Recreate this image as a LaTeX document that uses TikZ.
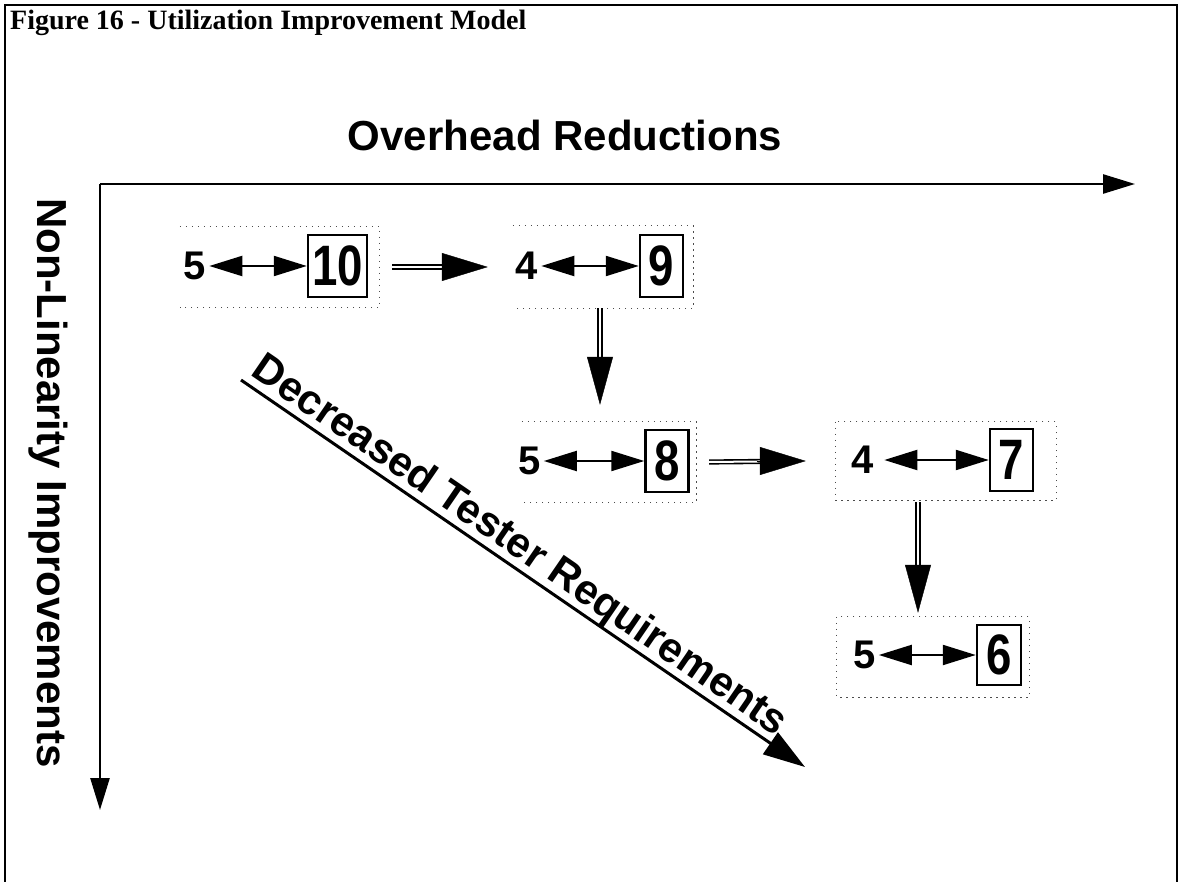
\documentclass[tikz,border=0pt]{standalone}
\usepackage{fontspec}
\usepackage{graphicx}
\setmainfont{Liberation Serif}
\newfontfamily\arialfont{Liberation Sans}
\usetikzlibrary{arrows.meta,calc}
\newcommand\bignum[1]{\scalebox{0.8}[1]{\arialfont\bfseries\fontsize{57}{57}\selectfont #1}}
\begin{document}
\begin{tikzpicture}[x=1pt,y=-1pt,
  lbl/.style={font=\arialfont\bfseries\fontsize{42}{42}\selectfont, inner sep=0pt},
  dig/.style={font=\arialfont\bfseries\fontsize{40}{40}\selectfont, inner sep=0pt},
  numbox/.style={draw, line width=2.5pt, minimum height=62pt, minimum width=43pt, inner sep=0pt},
  grp/.style={inner sep=0pt},
  dots/.style={draw=black!70, line width=1.1pt, dash pattern=on 1.4pt off 4.6pt},
  twoway/.style={line width=2.2pt, {Triangle[length=33pt,width=20pt]}-{Triangle[length=33pt,width=20pt]}},
  axistip/.style={line width=2.6pt, -{Triangle[length=32pt,width=19pt]}},
  shaft/.style={draw, line width=1.6pt, double=white, double distance=2pt},
  fwdhead/.style={line width=0.4pt, -{Triangle[length=46pt,width=28pt]}},
  downhead/.style={line width=0.4pt, -{Triangle[length=48pt,width=26pt]}}
]
\useasboundingbox (0,0) rectangle (1180,882);
% frame
\draw[line width=1.8pt] (5,890) -- (5,5) -- (1177,5) -- (1177,890);
\node[anchor=base west, inner sep=0pt, font=\bfseries\fontsize{28}{28}\selectfont] (title) at (10,30) {Figure 16 - Utilization Improvement Model};

% axes
\coordinate (org) at (100,184);
\coordinate (xend) at (1135,184);
\coordinate (yend) at (100,810);
\draw[axistip] (org) -- (xend);
\draw[axistip] (org) -- (yend);
\node[lbl, anchor=base] (xlab) at (565,151) {Overhead Reductions};
\node[lbl, rotate=-90, anchor=base west] (ylab) at (37,198) {Non-Linearity Improvements};

% diagonal
\coordinate (dA) at (241,380);
\coordinate (dB) at (805,767);
\draw[line width=3pt, -{Triangle[length=42pt,width=26pt]}] (dA) -- (dB);
\path let \p1=($(dB)-(dA)$), \n1={atan2(\y1,\x1)} in
  node[lbl, rotate=\n1, anchor=base west] (dlab) at ($(dA)!4pt!(dB)+(0.5658*9,-0.8246*9)$) {Decreased Tester Requirements};

% groups
\node[grp, minimum width=199pt, minimum height=81pt] (g1) at (279.5,267) {};
\node[grp, minimum width=180pt, minimum height=82pt] (g2) at (603,267) {};
\node[grp, minimum width=174pt, minimum height=80pt] (g3) at (609,462) {};
\node[grp, minimum width=220pt, minimum height=78pt] (g4) at (946,461) {};
\node[grp, minimum width=192pt, minimum height=80pt] (g5) at (933,657) {};
\draw[dots] (g1.north west) -- (g1.north east) -- (g1.south east) -- (g1.south west);
\draw[dots] (g2.north west) -- (g2.north east) -- (g2.south east) -- (g2.south west);
\draw[dots] (g3.north west) -- (g3.north east) -- (g3.south east) -- (g3.south west);
\draw[dots] (g4.north west) rectangle (g4.south east);
\draw[dots] (g5.north west) rectangle (g5.south east);

% group contents
\node[dig] (a1) at (195,266) {5};
\node[numbox, minimum width=59pt] (b1) at (337.5,266) {\bignum{10}};
\node[dig] (a2) at (527,266) {4};
\node[numbox] (b2) at (661.5,266) {\bignum{9}};
\node[dig] (a3) at (529.5,461) {5};
\node[numbox] (b3) at (667,461) {\bignum{8}};
\node[dig] (a4) at (863,460) {4};
\node[numbox] (b4) at (1011.5,460) {\bignum{7}};
\node[dig] (a5) at (864.5,655) {5};
\node[numbox, minimum width=44pt, minimum height=60pt] (b5) at (999,655) {\bignum{6}};

\draw[twoway, shorten <=3pt] (a1.east) -- (b1.west);
\draw[twoway, shorten <=3pt] (a2.east) -- (b2.west);
\draw[twoway, shorten <=3pt] (a3.east) -- (b3.west);
\draw[twoway, shorten <=10pt] (a4.east) -- (b4.west);
\draw[twoway, shorten <=3pt] (a5.east) -- (b5.west);

% transitions
\draw[shaft, shorten >=44pt] ([xshift=13pt]g1.east) -- ([xshift=-25pt]g2.west);
\draw[fwdhead] ([xshift=-71pt]g2.west) -- ([xshift=-25pt]g2.west);
\draw[shaft, shorten >=46pt] ([xshift=13pt]g3.east) -- ([xshift=-30pt]g4.west);
\draw[fwdhead] ([xshift=-79pt]g4.west) -- ([xshift=-30pt]g4.west);
\draw[shaft, shorten >=46pt] ([xshift=-3pt]g2.south) -- ([xshift=-9pt,yshift=17pt]g3.north);
\draw[downhead] ([xshift=-9pt,yshift=65pt]g3.north) -- ([xshift=-9pt,yshift=17pt]g3.north);
\draw[shaft, shorten >=46pt] ([xshift=-28pt,yshift=-2pt]g4.south) -- ([xshift=-15pt,yshift=4pt]g5.north);
\draw[downhead] ([xshift=-15pt,yshift=52pt]g5.north) -- ([xshift=-15pt,yshift=4pt]g5.north);
\end{tikzpicture}
\end{document}
